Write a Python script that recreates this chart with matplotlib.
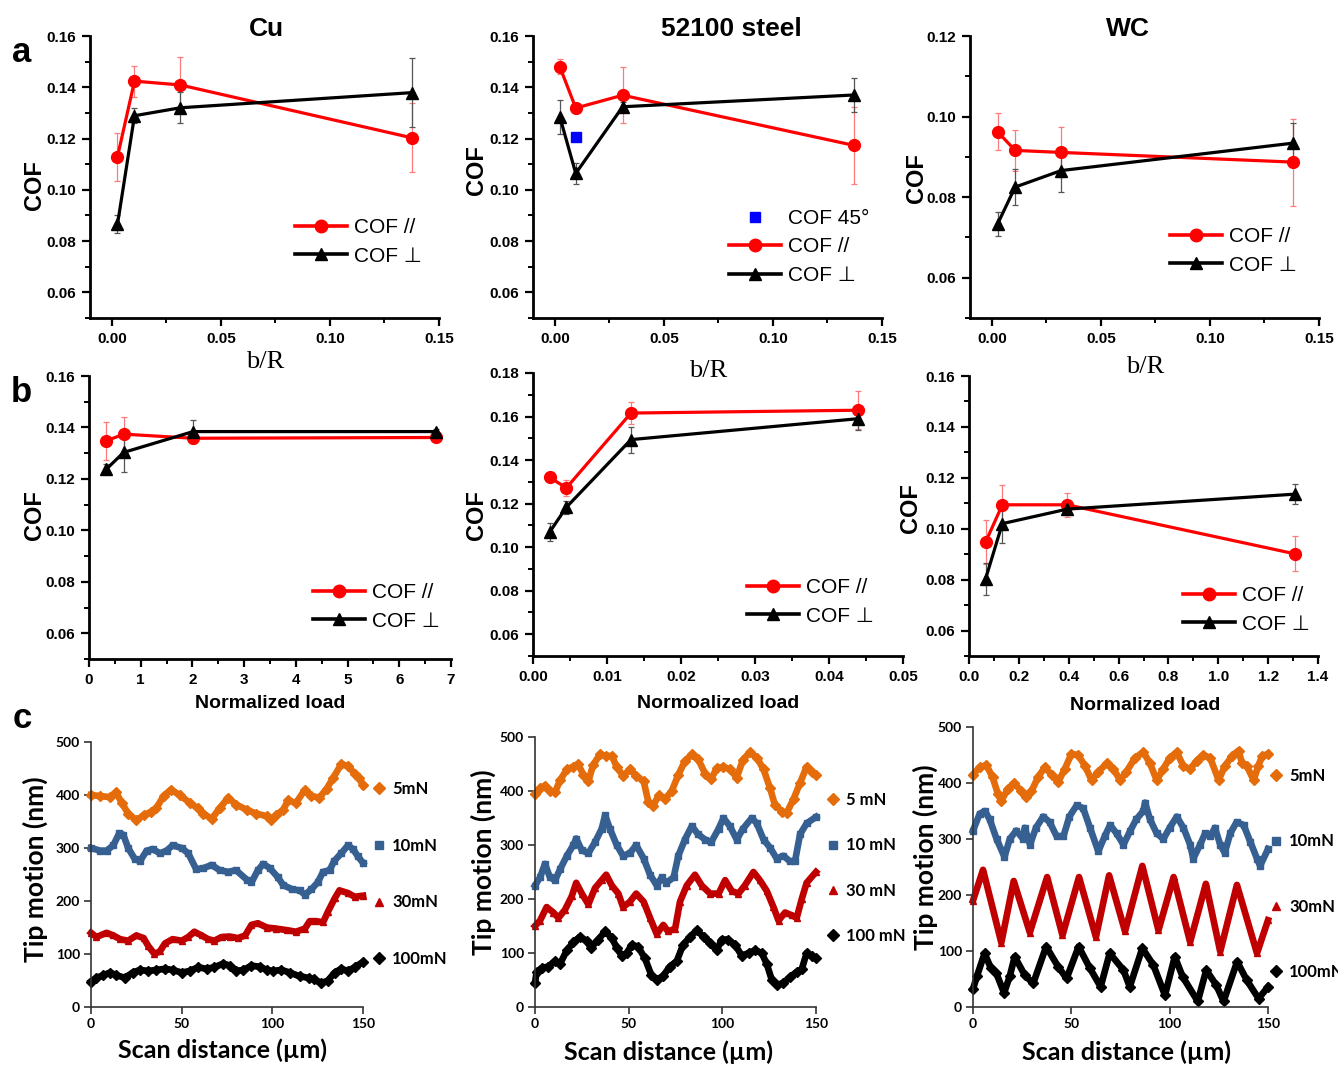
import matplotlib
matplotlib.use("Agg")
import matplotlib.pyplot as plt
from matplotlib.lines import Line2D
from matplotlib.ticker import MultipleLocator, FormatStrFormatter

# ---- row a: COF vs b/R ----
a_cu_x = [0.0026, 0.0104, 0.0314, 0.1375]
a_cu_par = [0.1129, 0.1424, 0.1409, 0.1203]
a_cu_par_err = [0.0093, 0.006, 0.011, 0.0135]
a_cu_perp = [0.0865, 0.1289, 0.1320, 0.1379]
a_cu_perp_err = [0.0035, 0.003, 0.006, 0.0135]

a_st_x = [0.0023, 0.0096, 0.0311, 0.1373]
a_st_par = [0.148, 0.1319, 0.1369, 0.1173]
a_st_par_err = [0.003, 0.002, 0.011, 0.0152]
a_st_perp = [0.1285, 0.1064, 0.1324, 0.137]
a_st_perp_err = [0.0066, 0.004, 0.002, 0.0067]
a_st_45_x = [0.0096]
a_st_45 = [0.1205]

a_wc_x = [0.0027, 0.0107, 0.0318, 0.138]
a_wc_par = [0.0962, 0.0916, 0.0911, 0.0887]
a_wc_par_err = [0.0046, 0.005, 0.0062, 0.0108]
a_wc_perp = [0.0734, 0.0825, 0.0866, 0.0934]
a_wc_perp_err = [0.003, 0.0045, 0.0054, 0.005]

# ---- row b: COF vs normalized load ----
b_cu_x = [0.336, 0.671, 2.014, 6.71]
b_cu_par = [0.1348, 0.1374, 0.1358, 0.1361]
b_cu_par_err = [0.0074, 0.0066, 0.002, 0.001]
b_cu_perp = [0.1238, 0.1303, 0.1384, 0.1384]
b_cu_perp_err = [0.002, 0.0076, 0.0044, 0.001]

b_st_x = [0.00225, 0.0045, 0.01324, 0.0439]
b_st_par = [0.1321, 0.1272, 0.1616, 0.1629]
b_st_par_err = [0.001, 0.0037, 0.005, 0.0087]
b_st_perp = [0.1069, 0.1183, 0.1494, 0.159]
b_st_perp_err = [0.004, 0.003, 0.006, 0.005]

b_wc_x = [0.0668, 0.1337, 0.394, 1.309]
b_wc_par = [0.0948, 0.1094, 0.1094, 0.0901]
b_wc_par_err = [0.0087, 0.0079, 0.0046, 0.0069]
b_wc_perp = [0.0804, 0.102, 0.1077, 0.1136]
b_wc_perp_err = [0.0063, 0.0076, 0.002, 0.004]

# ---- row c: tip motion traces (scan distance um, nm) ----
cu5_x = [0, 5, 10.5, 13.8, 17, 20.5, 25, 29, 33, 36, 40, 44, 49, 54.5, 59, 62, 66.5, 71, 75.6, 80, 86, 91, 97,
         99.5, 102, 106, 108.7, 113, 118, 121.5, 126, 130, 133.5, 138, 141.7, 145.4, 148, 150]
cu5_y = [400, 398, 396, 405, 385, 365, 352, 362, 368, 375, 398, 410, 400, 385, 375, 365, 355, 375, 395, 382, 372,
         365, 360, 352, 362, 372, 390, 385, 410, 398, 395, 412, 432, 458, 455, 440, 432, 418]
cu10_x = [0, 5, 8.6, 12.3, 15.6, 17.8, 20.5, 24, 27, 30.7, 34, 38, 41.7, 45, 50, 53.6, 58, 62, 66.5, 71, 75.6, 80,
          86, 88.5, 92, 95, 98.6, 103, 106, 111, 115, 118, 121.5, 125, 128, 131.6, 134, 138, 141.7, 144.5, 147, 150]
cu10_y = [300, 295, 295, 305, 328, 325, 300, 280, 275, 295, 298, 290, 295, 305, 300, 290, 260, 262, 268, 258, 255,
          258, 240, 235, 258, 270, 262, 245, 230, 222, 220, 212, 222, 235, 255, 258, 275, 290, 305, 298, 285, 272]
cu30_x = [0, 3, 8.6, 12.3, 16, 20.5, 25, 29, 31.6, 35, 38, 40.8, 45, 50, 53.6, 57, 61, 64.6, 68, 72, 76.5, 81, 85,
          88.5, 92, 97, 102, 108, 113, 118, 120.6, 124, 128, 130.7, 134.4, 137, 141.7, 145.4, 150]
cu30_y = [140, 132, 140, 135, 128, 125, 135, 130, 115, 100, 105, 120, 128, 125, 132, 142, 135, 128, 125, 132, 133,
          130, 135, 155, 158, 150, 148, 145, 142, 148, 162, 162, 160, 180, 205, 220, 215, 208, 210]
cu100_x = [0, 3, 6.8, 10.5, 14, 18.7, 23, 27, 31.6, 36, 40.8, 45, 50, 54.5, 59, 63.7, 68, 73, 76.5, 80, 84, 88.5,
           93, 97, 100.4, 105, 109.6, 115, 120, 123, 127, 130.7, 134.4, 138, 141.7, 145.4, 150]
cu100_y = [48, 55, 60, 65, 60, 55, 65, 70, 68, 70, 72, 70, 65, 68, 75, 72, 75, 82, 78, 68, 70, 78, 76, 70, 68, 70,
           65, 58, 55, 52, 45, 50, 65, 72, 68, 75, 85]

st5_x = [0, 2.7, 5.3, 8, 10.7, 13.4, 17, 20.5, 23, 25.8, 28.5, 31, 34.7, 38, 41, 43.6, 47, 50.7, 54, 58, 60.5, 63,
         66, 69.4, 73, 76.5, 80, 83.7, 87, 90.8, 94, 97, 100.6, 104, 107.7, 111, 114.8, 118.4, 122, 125.5, 128,
         131.7, 134.4, 138, 141.5, 145, 147.7, 150]
st5_y = [395, 405, 410, 400, 398, 420, 440, 445, 450, 430, 418, 448, 468, 465, 465, 445, 428, 440, 428, 418, 380,
         372, 392, 385, 400, 430, 455, 468, 460, 432, 422, 442, 445, 440, 425, 458, 472, 462, 440, 405, 375, 362,
         360, 385, 415, 445, 435, 430]
st10_x = [0, 2.7, 5.3, 8, 10.7, 13.4, 17, 20.5, 22, 25, 28.5, 32, 35.6, 37.4, 40, 43.6, 47, 50.7, 54, 58, 61.4, 65,
          67.6, 70, 74, 76.5, 80, 83.7, 87, 90.8, 94, 98, 100.6, 104, 107.7, 111, 115.7, 118.4, 122, 125.5, 129,
          132.6, 136, 138.8, 141.5, 145, 150]
st10_y = [225, 240, 265, 240, 235, 255, 280, 300, 312, 290, 285, 305, 330, 355, 330, 300, 280, 285, 300, 275, 245,
          225, 240, 230, 240, 280, 310, 335, 320, 310, 305, 330, 350, 335, 310, 330, 350, 340, 310, 295, 275, 280,
          270, 270, 320, 340, 352]
st30_x = [0, 2.7, 6.2, 9.8, 12.5, 16, 19.6, 22, 25, 28.5, 32, 35.6, 38, 41, 44.5, 47, 50.7, 54, 58, 61.4, 65, 68.5,
          71, 74.8, 77.4, 81, 85.4, 89, 93.5, 98, 101.5, 105, 108.6, 112, 116.6, 120, 123.7, 127.3, 130, 133.5,
          137, 139.7, 142.4, 145, 150]
st30_y = [150, 160, 185, 175, 165, 180, 205, 230, 210, 190, 220, 235, 245, 225, 210, 185, 195, 210, 195, 165, 135,
          152, 140, 145, 195, 225, 245, 225, 210, 210, 235, 215, 210, 225, 250, 235, 215, 185, 160, 175, 170, 165,
          200, 230, 250]
st100_x = [0, 0.9, 3.6, 7, 10.7, 13.4, 17, 20.5, 24, 27.6, 30, 33.8, 37.4, 41, 43.6, 46.3, 49, 51.6, 55, 58.7, 62,
           65, 68.5, 72, 75.7, 79, 82.8, 86.3, 90, 93.5, 97, 99.7, 103, 106.8, 110.4, 114, 117.5, 121, 123.7, 126.4,
           129, 132.6, 136, 139.7, 142.4, 145, 147.7, 150]
st100_y = [45, 65, 72, 75, 85, 80, 105, 120, 130, 122, 110, 125, 140, 128, 110, 95, 100, 115, 112, 90, 60, 50, 58,
           75, 85, 115, 130, 142, 130, 118, 105, 125, 125, 115, 95, 100, 105, 100, 80, 50, 40, 45, 55, 65, 70, 100,
           95, 90]

wc5_x = [0, 3.4, 6.8, 10, 12.7, 14.4, 17.8, 21, 24.6, 27.2, 29.7, 33, 36.5, 40, 43.3, 46.7, 50, 53.5, 57, 60.3,
         63.7, 68, 71.4, 74.8, 78, 82.4, 86.6, 90, 93.4, 96.8, 100, 103.6, 107, 110.4, 113.8, 117, 120.6, 124.9,
         128, 131.7, 135, 136.8, 139.3, 142.7, 145, 147, 150]
wc5_y = [415, 428, 432, 410, 380, 368, 390, 400, 385, 375, 385, 410, 428, 415, 402, 425, 452, 450, 430, 405, 420,
         435, 425, 405, 420, 445, 455, 435, 405, 425, 445, 455, 430, 425, 440, 450, 445, 405, 430, 448, 458, 435,
         430, 405, 430, 448, 452]
wc10_x = [0, 3.4, 6, 8.5, 12, 16, 18.7, 22, 25.5, 26.3, 29, 32, 35.7, 39, 42.5, 46, 49, 52.7, 56, 59.5, 63.7, 67,
          69.7, 73, 76.5, 80, 83, 86.6, 87.5, 90, 93.4, 96.8, 100, 103.6, 107, 110.4, 112, 115.5, 118, 120.6, 123,
          125.7, 128, 130.8, 134, 137.6, 141, 144.4, 146, 150]
wc10_y = [315, 345, 350, 335, 300, 268, 300, 315, 300, 320, 290, 320, 340, 330, 305, 305, 340, 360, 355, 320, 278,
          305, 325, 310, 290, 315, 335, 350, 365, 335, 310, 300, 320, 340, 320, 290, 265, 290, 310, 305, 320, 290,
          275, 310, 330, 325, 295, 265, 252, 282]
wc30_x = [0, 5.1, 14.4, 20.7, 28.9, 37.7, 45.5, 53.9, 62.5, 69.2, 77.3, 86.1, 94.3, 102, 110.4, 118.4, 125.7,
          134.2, 144.4, 150]
wc30_y = [190, 245, 115, 225, 133, 232, 128, 232, 125, 235, 135, 252, 137, 232, 116, 220, 99, 218, 96, 155]
wc100_x = [0, 2, 5.9, 9, 11.9, 15.8, 18.7, 21.2, 26.3, 30.6, 37.2, 43.3, 47.6, 53.7, 59.5, 64.9, 69.5, 76.5, 79.7,
           86.1, 91.7, 97.6, 102.6, 106.6, 114.3, 118.6, 123.7, 127.4, 134.3, 139.2, 145.2, 150]
wc100_y = [32, 55, 96, 70, 60, 25, 55, 90, 57, 42, 108, 72, 51, 108, 69, 36, 96, 66, 36, 105, 75, 21, 90, 54, 10,
           66, 39, 10, 81, 48, 15, 36]

W, H = 1338, 1067
fig = plt.figure(figsize=(W / 100, H / 100), dpi=100)
SANS = ["Liberation Sans", "DejaVu Sans"]
CAL = ["Lato", "DejaVu Sans"]


def box(l, r, t, b):
    return [l / W, 1 - b / H, (r - l) / W, (b - t) / H]


def fxy(x, y):
    return x / W, 1 - y / H


def cof_panel(pos, x, par, par_err, perp, perp_err, xlim, ylim, xmaj, xmin, ymaj, xfmt, yfmt):
    ax = fig.add_axes(box(*pos))
    ax.errorbar(x, par, yerr=par_err, color="red", lw=2.3, marker="o", ms=8.5, ecolor="#ff7a7a",
                elinewidth=0.9, capsize=2.5, capthick=0.9, zorder=3, clip_on=False)
    ax.errorbar(x, perp, yerr=perp_err, color="black", lw=2.3, marker="^", ms=9, ecolor="#555555",
                elinewidth=0.9, capsize=2.5, capthick=0.9, zorder=3, clip_on=False)
    ax.set_xlim(*xlim)
    ax.set_ylim(*ylim)
    ax.xaxis.set_major_locator(MultipleLocator(xmaj))
    ax.xaxis.set_minor_locator(MultipleLocator(xmin))
    ax.yaxis.set_major_locator(MultipleLocator(ymaj))
    ax.yaxis.set_minor_locator(MultipleLocator(ymaj / 2))
    ax.xaxis.set_major_formatter(FormatStrFormatter(xfmt))
    ax.yaxis.set_major_formatter(FormatStrFormatter(yfmt))
    for s in ["top", "right"]:
        ax.spines[s].set_visible(False)
    for s in ["left", "bottom"]:
        ax.spines[s].set_linewidth(2)
    ax.tick_params(which="major", direction="out", length=6, width=1.6, labelsize=11, pad=4)
    ax.tick_params(which="minor", direction="out", length=3.5, width=1.4)
    for lab in ax.get_xticklabels() + ax.get_yticklabels():
        lab.set_fontweight("bold")
        lab.set_family(SANS)
    return ax


def cof_legend(ax, x, ycenter, with45=False):
    hs = [Line2D([], [], color="red", lw=2.6, marker="o", ms=9),
          Line2D([], [], color="black", lw=2.6, marker="^", ms=9)]
    labs = ["COF //", "COF \u22a5"]
    if with45:
        hs.insert(0, Line2D([], [], ls="none", marker="s", color="blue", ms=7))
        labs.insert(0, "COF 45\u00b0")
    ax.legend(hs, labs, loc="center left", bbox_to_anchor=fxy(x, ycenter), bbox_transform=fig.transFigure,
              frameon=False, handlelength=2.5, handletextpad=0.35, labelspacing=0.45, borderpad=0,
              borderaxespad=0, prop={"family": SANS, "size": 15})


# row a
ax = cof_panel((90, 439, 36, 318), a_cu_x, a_cu_par, a_cu_par_err, a_cu_perp, a_cu_perp_err,
               (-0.01, 0.15), (0.05, 0.16), 0.05, 0.025, 0.02, "%.2f", "%.2f")
cof_legend(ax, 295, 242)
ax = cof_panel((533, 882, 36, 318), a_st_x, a_st_par, a_st_par_err, a_st_perp, a_st_perp_err,
               (-0.01, 0.15), (0.05, 0.16), 0.05, 0.025, 0.02, "%.2f", "%.2f")
ax.plot(a_st_45_x, a_st_45, ls="none", marker="s", color="blue", ms=7, zorder=4)
cof_legend(ax, 729, 247, with45=True)
ax = cof_panel((970, 1319, 36, 318), a_wc_x, a_wc_par, a_wc_par_err, a_wc_perp, a_wc_perp_err,
               (-0.01, 0.15), (0.05, 0.12), 0.05, 0.025, 0.02, "%.2f", "%.2f")
cof_legend(ax, 1170, 251)

# row b
ax = cof_panel((89, 451, 376, 659), b_cu_x, b_cu_par, b_cu_par_err, b_cu_perp, b_cu_perp_err,
               (0, 7), (0.05, 0.16), 1, 0.5, 0.02, "%d", "%.2f")
cof_legend(ax, 313, 607)
ax = cof_panel((533, 903, 373, 656), b_st_x, b_st_par, b_st_par_err, b_st_perp, b_st_perp_err,
               (0, 0.05), (0.05, 0.18), 0.01, 0.005, 0.02, "%.2f", "%.2f")
cof_legend(ax, 747, 602)
ax = cof_panel((969, 1318, 376, 656), b_wc_x, b_wc_par, b_wc_par_err, b_wc_perp, b_wc_perp_err,
               (0, 1.4), (0.05, 0.16), 0.2, 0.1, 0.02, "%.1f", "%.2f")
cof_legend(ax, 1183, 610)

# row c
trace_colors = ["#e46c0a", "#376092", "#c00000", "black"]
trace_markers = ["D", "s", "^", "D"]


def trace_panel(pos, xs, ys, labels, leg_x, leg_y, spacing):
    ax = fig.add_axes(box(*pos))
    for x, y, c, m in zip(xs, ys, trace_colors, trace_markers):
        ax.plot(x, y, color=c, lw=4.8, marker=m, ms=5, solid_joinstyle="round", clip_on=False)
    ax.set_xlim(0, 150)
    ax.set_ylim(0, 500)
    ax.set_xticks([0, 50, 100, 150])
    ax.set_yticks([0, 100, 200, 300, 400, 500])
    for s in ["top", "right"]:
        ax.spines[s].set_visible(False)
    for s in ["left", "bottom"]:
        ax.spines[s].set_linewidth(1.2)
        ax.spines[s].set_color("#333333")
    ax.tick_params(direction="out", length=5, width=1.2, color="#333333", labelsize=10, pad=3)
    for lab in ax.get_xticklabels() + ax.get_yticklabels():
        lab.set_fontweight("bold")
        lab.set_family(CAL)
    hs = [Line2D([], [], ls="none", marker=m, color=c, ms=6) for c, m in zip(trace_colors, trace_markers)]
    ax.legend(hs, labels, loc="center left", bbox_to_anchor=fxy(leg_x, leg_y), bbox_transform=fig.transFigure,
              frameon=False, handlelength=0.6, handletextpad=0.5, labelspacing=spacing, borderpad=0,
              borderaxespad=0, prop={"family": CAL, "size": 12, "weight": "bold"})
    return ax


trace_panel((91, 363, 742, 1007), [cu5_x, cu10_x, cu30_x, cu100_x], [cu5_y, cu10_y, cu30_y, cu100_y],
            ["5mN", "10mN", "30mN", "100mN"], 374, 874, 2.45)
trace_panel((535, 816, 737, 1007), [st5_x, st10_x, st30_x, st100_x], [st5_y, st10_y, st30_y, st100_y],
            ["5 mN", "10 mN", "30 mN", "100 mN"], 828, 868, 1.75)
trace_panel((973, 1268, 727, 1007), [wc5_x, wc10_x, wc30_x, wc100_x], [wc5_y, wc10_y, wc30_y, wc100_y],
            ["5mN", "10mN", "30mN", "100mN"], 1271, 874, 2.95)

# titles and labels
for x, t in [(266, "Cu"), (731, "52100 steel"), (1128, "WC")]:
    fig.text(*fxy(x, 29), t, ha="center", va="center", fontsize=19, fontweight="bold", family=SANS)
for x, y, t in [(22, 52, "a"), (21, 393, "b"), (22, 718, "c")]:
    fig.text(*fxy(x, y), t, ha="center", va="center", fontsize=25, fontweight="bold", family=SANS)
for x, y in [(35, 185), (476, 170), (916, 178), (35, 515), (476, 515), (910, 508)]:
    fig.text(*fxy(x, y), "COF", ha="center", va="center", rotation=90, fontsize=17, fontweight="bold",
             family=SANS)
for x, y in [(265, 362), (708, 371), (1145, 367)]:
    fig.text(*fxy(x, y), "b/R", ha="center", va="center", fontsize=19, family="Liberation Serif")
for x, y, t in [(270, 704, "Normalized load"), (718, 704, "Normoalized load"), (1145, 705, "Normalized load")]:
    fig.text(*fxy(x, y), t, ha="center", va="center", fontsize=14, fontweight="bold", family=SANS)
for x, y in [(35, 869), (483, 862), (925, 857)]:
    fig.text(*fxy(x, y), "Tip motion (nm)", ha="center", va="center", rotation=90, fontsize=19,
             fontweight="bold", family=CAL)
for x, y in [(222, 1050), (669, 1052), (1126, 1052)]:
    fig.text(*fxy(x, y), "Scan distance (\u00b5m)", ha="center", va="center", fontsize=18,
             fontweight="bold", family=CAL)

fig.savefig("out.png", dpi=100)
